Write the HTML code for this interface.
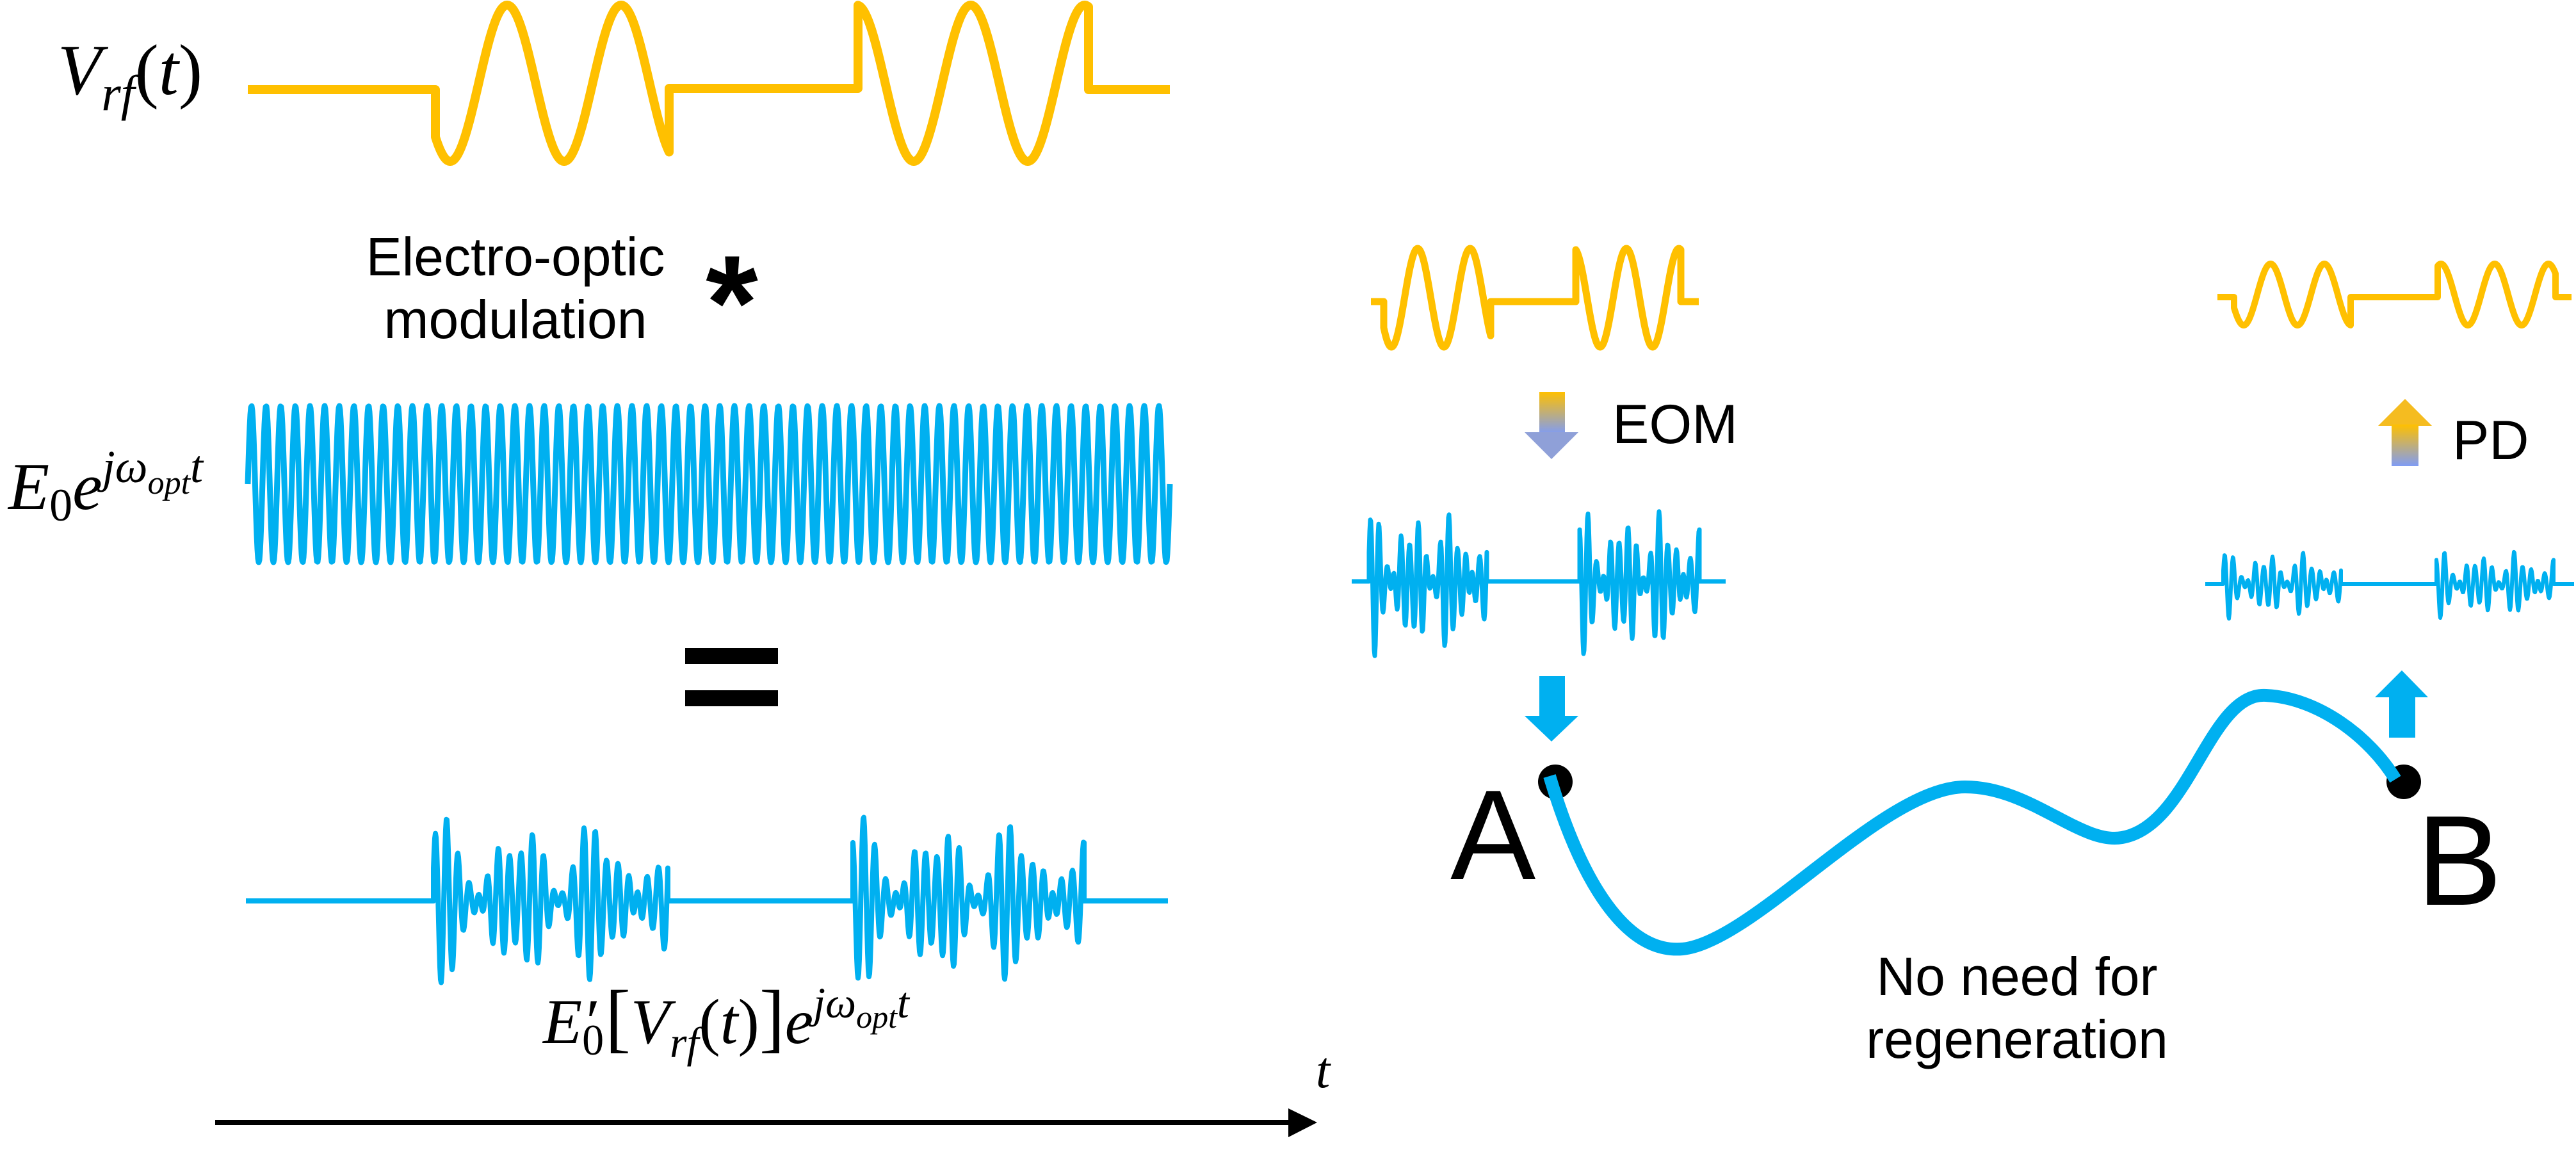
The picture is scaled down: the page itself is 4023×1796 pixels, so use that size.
<!DOCTYPE html>
<html><head><meta charset="utf-8"><style>
html,body{margin:0;padding:0;background:#fff;}
svg{display:block;}
text{font-family:"Liberation Sans",sans-serif;fill:#000;}
.m{font-family:"Liberation Serif",serif;font-style:italic;}
.u{font-style:normal;}
</style></head><body>
<svg id="s" width="4023" height="1796" viewBox="0 0 4023 1796" xmlns="http://www.w3.org/2000/svg">
<defs>
<linearGradient id="gd" x1="0" y1="0" x2="0" y2="1"><stop offset="0" stop-color="#FFC000"/><stop offset="1" stop-color="#7F9CF5"/></linearGradient>
<linearGradient id="gu" x1="0" y1="0" x2="0" y2="1"><stop offset="0" stop-color="#FFC000"/><stop offset="1" stop-color="#7F9CF5"/></linearGradient>
</defs>
<g id="waves" fill="none" stroke-linejoin="round"></g>

<text class="m" x="90" y="147" font-size="112">V<tspan font-size="78" dy="25">rf</tspan><tspan class="u" font-size="112" dy="-25">(</tspan><tspan font-size="112">t</tspan><tspan class="u" font-size="112">)</tspan></text>
<text x="805" y="430" font-size="84" text-anchor="middle">Electro-optic</text>
<text x="805" y="528" font-size="84" text-anchor="middle">modulation</text>
<text x="1143" y="545" font-size="210" font-weight="bold" text-anchor="middle">*</text>
<text class="m" x="13" y="795" font-size="105">E<tspan class="u" font-size="72" dy="18">0</tspan><tspan font-size="105" dy="-18">e</tspan><tspan font-size="72" dy="-42">jω</tspan><tspan font-size="52" dy="18">opt</tspan><tspan font-size="72" dy="-18">t</tspan></text>
<rect x="1070" y="1012" width="145" height="25" fill="#000"/>
<rect x="1070" y="1078" width="145" height="25" fill="#000"/>
<text class="m" x="848" y="1629" font-size="100">E<tspan class="u" font-size="68" dy="18">0</tspan><tspan font-size="100" dy="-18" dx="-34">′</tspan><tspan class="u" font-size="120" dx="14">[</tspan><tspan font-size="100">V</tspan><tspan font-size="68" dy="22">rf</tspan><tspan class="u" font-size="100" dy="-22">(</tspan><tspan font-size="100">t</tspan><tspan class="u" font-size="100">)</tspan><tspan class="u" font-size="120">]</tspan><tspan font-size="100">e</tspan><tspan font-size="68" dy="-40">jω</tspan><tspan font-size="50" dy="16">opt</tspan><tspan font-size="68" dy="-16">t</tspan></text>
<text class="m" x="2055" y="1698" font-size="80">t</text>
<line x1="336" y1="1753" x2="2020" y2="1753" stroke="#000" stroke-width="8"/>
<polygon points="2012,1731 2057,1753 2012,1776" fill="#000"/>

<rect x="2404" y="612" width="40" height="66" fill="url(#gd)"/>
<polygon points="2381,675 2465,675 2423,717" fill="#8FA0D8"/>
<text x="2518" y="692" font-size="86">EOM</text>
<polygon points="3714,665 3798,665 3756,623" fill="#F5BC20"/>
<rect x="3735" y="663" width="42" height="65" fill="url(#gu)"/>
<text x="3830" y="717" font-size="86">PD</text>
<rect x="2404" y="1056" width="40" height="64" fill="#00B0F0"/>
<polygon points="2381,1118 2465,1118 2423,1158" fill="#00B0F0"/>
<polygon points="3709,1089 3792,1089 3751,1047" fill="#00B0F0"/>
<rect x="3731" y="1087" width="41" height="65" fill="#00B0F0"/>

<circle cx="2429" cy="1221" r="27" fill="#000"/>
<circle cx="3754" cy="1221" r="27" fill="#000"/>
<path d="M2420,1212 C2470,1380 2540,1490 2628,1482 C2740,1470 2940,1230 3068,1229 C3170,1228 3250,1320 3314,1308 C3420,1290 3450,1080 3539,1086 C3620,1090 3700,1150 3741,1217" fill="none" stroke="#00B0F0" stroke-width="20" stroke-linecap="butt"/>
<text x="2265" y="1373" font-size="200">A</text>
<text x="3774" y="1413" font-size="200">B</text>
<text x="3150" y="1554" font-size="84" text-anchor="middle">No need for</text>
<text x="3150" y="1652" font-size="84" text-anchor="middle">regeneration</text>
</svg>
<script>
(function(){
var g=document.getElementById('waves');
function add(d,col,w){var p=document.createElementNS('http://www.w3.org/2000/svg','path');p.setAttribute('d',d);p.setAttribute('stroke',col);p.setAttribute('stroke-width',w);g.appendChild(p);}
function seg(x0,x1,f){var s='';for(var x=x0;x<=x1;x+=1){s+=' L'+x.toFixed(1)+','+f(x).toFixed(1);}return s;}
function yel(xs,xe,flatL,flatM,flatR,b1,b2,c,A,P){
 var f1=function(x){return c-A*Math.cos(2*Math.PI*(x-b1[2])/P);};
 var f2=function(x){return c-A*Math.cos(2*Math.PI*(x-b2[2])/P);};
 return 'M'+xs+','+flatL+' L'+b1[0]+','+flatL+seg(b1[0],b1[1],f1)+' L'+b1[1]+','+flatM+' L'+b2[0]+','+flatM+seg(b2[0],b2[1],f2)+' L'+b2[1]+','+flatR+' L'+xe+','+flatR;}
add(yel(387,1827,140,138,140,[680,1045,792],[1340,1700,1516],130,122,178),'#FFC000',14);
add(yel(2141,2653,471,471,471,[2161,2328,2214],[2461,2625,2540],465,77,82),'#FFC000',11);
add(yel(3463,4016,464,464,464,[3489,3671,3546],[3807,3991,3896],460,48,84),'#FFC000',10);
var P=1440/63;
add('M387,756'+seg(387,1827,function(x){return 756-122*Math.sin(2*Math.PI*(x-387)/P);}),'#00B0F0',9);
function mod(xs,xe,mid,A,b1,b2,N,ph){
 function m(x0,x1,p){var L=x1-x0;return function(x){var t=(x-x0)/L;var v=0.55*Math.sin(2*Math.PI*N*t+p)+0.45*Math.sin(2*Math.PI*(N-3)*t+p+0.6);return mid-A*v*(0.75+0.25*Math.sin(2*Math.PI*5*t));};}
 return 'M'+xs+','+mid+' L'+b1[0]+','+mid+seg(b1[0],b1[1],m(b1[0],b1[1],ph))+' L'+b1[1]+','+mid+' L'+b2[0]+','+mid+seg(b2[0],b2[1],m(b2[0],b2[1],ph+1.3))+' L'+b2[1]+','+mid+' L'+xe+','+mid;}
add(mod(384,1824,1407,133,[677,1043],[1332,1693],22,0.3),'#00B0F0',8);
add(mod(2111,2695,908,118,[2138,2322],[2467,2654],15,0.3),'#00B0F0',7);
add(mod(3444,4020,912,55,[3472,3656],[3805,3988],15,0.3),'#00B0F0',6);
})();
</script>
</body></html>
